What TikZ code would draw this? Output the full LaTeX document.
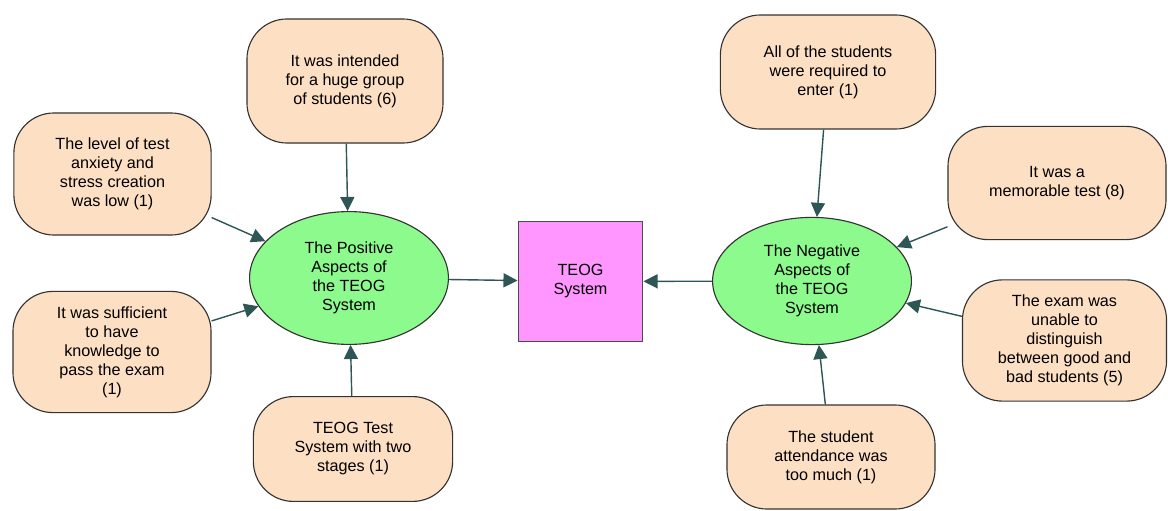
\documentclass[tikz,border=0pt]{standalone}
\usepackage{fontspec}
\setmainfont{Liberation Sans}
\usetikzlibrary{arrows.meta,shapes.geometric}
\definecolor{peach}{RGB}{253,223,196}
\definecolor{aspectgreen}{RGB}{140,250,140}
\definecolor{teogpink}{RGB}{255,150,255}
\definecolor{linkteal}{RGB}{47,86,86}
\begin{document}
\begin{tikzpicture} [x=0.025cm,y=-0.025cm,
	factor/.style={shape=rectangle,rounded corners=1cm,draw=black!80,line width=0.8pt,fill=peach,align=center,font=\fontsize{11.5}{13.5}\selectfont},
	aspect/.style={shape=ellipse,draw=black!80,line width=0.8pt,fill=aspectgreen,align=center,inner sep=0pt,minimum width=4.97cm,font=\fontsize{11.5}{13.5}\selectfont},
	system/.style={shape=rectangle,draw=black!70,line width=0.8pt,fill=teogpink,align=center,minimum width=3.12cm,minimum height=3.02cm,font=\fontsize{11.5}{13.5}\selectfont},
	link/.style={-{Triangle[length=10pt,width=10pt]},draw=linkteal,fill=linkteal,line width=1pt}]
	\useasboundingbox (0,0) rectangle (1168,511);

	\node (teogNode) at (580.5,281.5)[system] {TEOG\\System};
	\node (posNode) at (349,278)[aspect,minimum height=3.32cm] {The Positive\\Aspects of\\the TEOG\\System};
	\node (negNode) at (812,281)[aspect,minimum height=3.18cm] {The Negative\\Aspects of\\the TEOG\\System};

	\node (intendedNode) at (345,81)[factor,minimum width=4.9cm,minimum height=3.1cm] {It was intended\\for a huge group\\of students (6)};
	\node (anxietyNode) at (112.5,174)[factor,minimum width=4.93cm,minimum height=3.05cm] {The level of test\\anxiety and\\stress creation\\was low (1)};
	\node (sufficientNode) at (112,352)[factor,minimum width=4.95cm,minimum height=3.03cm] {It was sufficient\\to have\\knowledge to\\pass the exam\\(1)};
	\node (stagesNode) at (353,449)[factor,minimum width=4.98cm,minimum height=2.62cm] {TEOG Test\\System with two\\stages (1)};

	\node (enterNode) at (828,72)[factor,minimum width=5.38cm,minimum height=2.85cm] {All of the students\\were required to\\enter (1)};
	\node (memorableNode) at (1057,183)[factor,minimum width=5.45cm,minimum height=2.83cm] {It was a\\memorable test (8)};
	\node (distinguishNode) at (1064.5,340.5)[factor,minimum width=5.1cm,minimum height=3.03cm] {The exam was\\unable to\\distinguish\\between good and\\bad students (5)};
	\node (attendanceNode) at (831,457)[factor,minimum width=5.2cm,minimum height=2.6cm] {The student\\attendance was\\too much (1)};

	\draw[link] (intendedNode) -- (posNode);
	\draw[link] (anxietyNode) -- (posNode);
	\draw[link] (sufficientNode) -- (posNode);
	\draw[link] (stagesNode) -- (posNode);
	\draw[link] (enterNode) -- (negNode);
	\draw[link] (memorableNode) -- (negNode);
	\draw[link] (distinguishNode) -- (negNode);
	\draw[link] (attendanceNode) -- (negNode);
	\draw[link] (posNode) -- (teogNode);
	\draw[link] (negNode) -- (teogNode);
\end{tikzpicture}
\end{document}
